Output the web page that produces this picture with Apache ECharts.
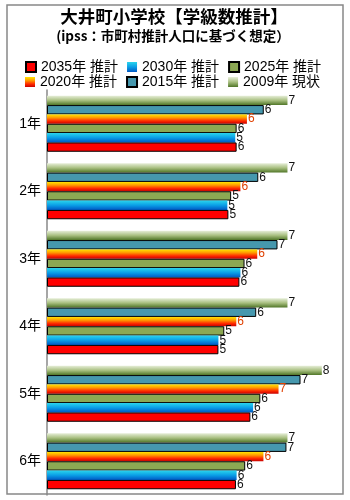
<!DOCTYPE html>
<html><head><meta charset="utf-8">
<script src="https://cdn.jsdelivr.net/npm/echarts@6/dist/echarts.min.js"></script>
<style>html,body{margin:0;padding:0;background:#fff}#c{width:350px;height:500px}</style>
</head><body><div id="c"></div>
<script>
const categories = ['1年','2年','3年','4年','5年','6年'];
const seriesNames = ['2035年 推計','2030年 推計','2025年 推計','2020年 推計','2015年 推計','2009年 現状'];
const v2035 = [5.52, 5.28, 5.60, 4.99, 5.92, 5.50];
const v2030 = [5.48, 5.25, 5.63, 4.99, 6.00, 5.52];
const v2025 = [5.52, 5.36, 5.75, 5.16, 6.21, 5.77];
const v2020 = [5.82, 5.63, 6.12, 5.51, 6.74, 6.30];
const v2015 = [6.31, 6.15, 6.71, 6.09, 7.38, 6.97];
const v2009 = [7, 7, 7, 7, 8, 7];

const grad = (stops) => new echarts.graphic.LinearGradient(0,0,0,1, stops.map((c,i)=>({offset:c[0],color:c[1]})));
const styles = {
  '2035年 推計': {color:'#ff0000', borderColor:'#000', borderWidth:1},
  '2030年 推計': {color: grad([[0,'#2ad4ec'],[0.5,'#0a9ee6'],[1,'#0058c4']])},
  '2025年 推計': {color:'#8ca853', borderColor:'#000', borderWidth:1},
  '2020年 推計': {color: grad([[0,'#ffe600'],[0.35,'#ff9a00'],[0.7,'#ff2a00'],[1,'#c80000']])},
  '2015年 推計': {color:'#4698ae', borderColor:'#000', borderWidth:1},
  '2009年 現状': {color: grad([[0,'#e6eed8'],[0.5,'#a8bf80'],[1,'#4f7526']])}
};
const dataMap = {
  '2035年 推計': v2035, '2030年 推計': v2030, '2025年 推計': v2025,
  '2020年 推計': v2020, '2015年 推計': v2015, '2009年 現状': v2009
};
// draw order top-to-bottom within a group: 2009 first
const drawOrder = ['2009年 現状','2015年 推計','2020年 推計','2025年 推計','2030年 推計','2035年 推計'];

const font = 'Liberation Sans, "Noto Sans CJK JP", sans-serif';
const chart = echarts.init(document.getElementById('c'), null, {renderer:'canvas'});
chart.setOption({
  animation:false,
  backgroundColor:'#fff',
  graphic:[{type:'rect', shape:{x:7,y:5,width:336,height:489}, style:{fill:'none', stroke:'#888', lineWidth:1.5}, z:-1}],
  title:[
    {text:'大井町小学校【学級数推計】', left:169, top:3, textAlign:'center',
     textStyle:{fontSize:17.5, fontWeight:'bold', color:'#000', fontFamily:'"Noto Sans CJK JP", sans-serif'}},
    {text:'(ipss：市町村推計人口に基づく想定）', left:168, top:24, textAlign:'center',
     textStyle:{fontSize:13.5, fontWeight:'bold', color:'#000', fontFamily:'"Noto Sans CJK JP", sans-serif'}}
  ],
  legend:[
    {data:seriesNames.slice(0,3), left:20, top:55, itemWidth:10, itemHeight:10, itemGap:9,
     textStyle:{fontSize:14, color:'#000', fontFamily:font}, icon:'rect'},
    {data:seriesNames.slice(3,6), left:20, top:70, itemWidth:10, itemHeight:10, itemGap:9,
     textStyle:{fontSize:14, color:'#000', fontFamily:font}, icon:'rect'}
  ],
  grid:{left:47, top:90, width:292, height:405, containLabel:false},
  xAxis:{type:'value', min:0, max:8.5, show:false},
  yAxis:{type:'category', data:categories, inverse:true, offset:2,
    axisLine:{show:true, lineStyle:{color:'#888', width:1.5}},
    axisTick:{show:false},
    axisLabel:{fontSize:14, color:'#000', margin:4, fontFamily:font}},
  series: drawOrder.map(name => ({
    name, type:'bar', data:dataMap[name],
    barGap:'0%', barCategoryGap:'17%',
    itemStyle:Object.assign({}, styles[name]),
    label:{show:true, position:'right', distance:1, fontSize:12, fontFamily:font,
      color: name==='2020年 推計' ? '#e04000' : '#111',
      formatter:p=>Math.round(p.value)}
  }))
});
</script></body></html>
